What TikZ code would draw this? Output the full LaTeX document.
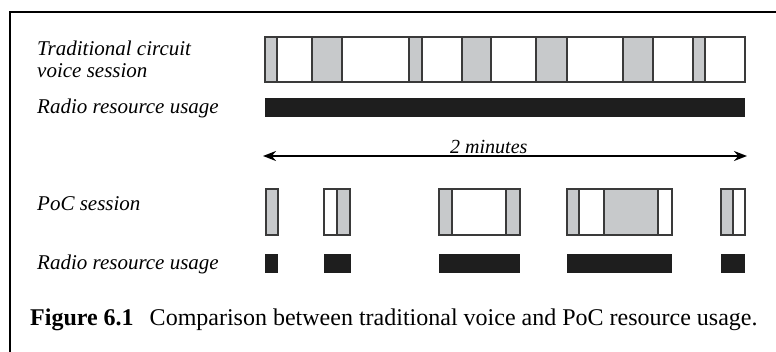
\documentclass[tikz,border=0pt]{standalone}
\usepackage{fontspec}
\setmainfont{Liberation Serif}
\usepackage{xcolor}
\usetikzlibrary{arrows.meta}
\definecolor{trazo}{HTML}{3A3A3A}
\definecolor{habla}{HTML}{C7C9CB}
\definecolor{ocupado}{HTML}{1E1E1E}

\begin{document}
\begin{tikzpicture}[x=1pt,y=-1pt,
    every node/.style={font=\fontsize{21}{22}\selectfont\itshape,align=left,anchor=west,inner sep=0pt},
    session/.style={draw=trazo,line width=1.2pt,fill=white},
    talk/.style={draw=trazo,line width=1.2pt,fill=habla},
    usage/.style={fill=ocupado},
    caption/.style={font=\fontsize{24}{26}\selectfont\upshape,anchor=base west}
  ]
    \useasboundingbox (0,0) rectangle (776,352);
    \draw[line width=2pt] (10,352) -- (10,12) -- (776,12);

    \node (trad) at (37,59) {Traditional circuit\\voice session};
    \node (radioA) at (37,108) {Radio resource usage};
    \node (poc) at (37,204) {PoC session};
    \node (radioB) at (37,264) {Radio resource usage};

    % circuit call: the channel is held the whole time
    \draw[session] (265,37) rectangle (745,82);
    \draw[talk] (265,37) rectangle (277,82);
    \draw[talk] (312,37) rectangle (342,82);
    \draw[talk] (409,37) rectangle (422,82);
    \draw[talk] (462,37) rectangle (491,82);
    \draw[talk] (536,37) rectangle (567,82);
    \draw[talk] (623,37) rectangle (653,82);
    \draw[talk] (693,37) rectangle (705,82);
    \fill[usage] (265,98) rectangle (745,117);

    \coordinate (start) at (263,156);
    \coordinate (stop) at (747,156);
    \draw[{Stealth[length=13pt,width=10pt]}-{Stealth[length=13pt,width=10pt]},line width=2pt] (start) -- (stop);
    \node[anchor=south west,font=\fontsize{20}{22}\selectfont\itshape] (span) at (450,154) {2 minutes};

    % PoC: radio only while someone talks
    \draw[talk] (266,189) rectangle (278,235);
    \draw[session] (324,189) rectangle (350,235);
    \draw[talk] (337,189) rectangle (350,235);
    \draw[session] (439,189) rectangle (520,235);
    \draw[talk] (439,189) rectangle (452,235);
    \draw[talk] (506,189) rectangle (520,235);
    \draw[session] (567,189) rectangle (672,235);
    \draw[talk] (567,189) rectangle (579,235);
    \draw[talk] (604,189) rectangle (658,235);
    \draw[session] (721,189) rectangle (745,235);
    \draw[talk] (721,189) rectangle (733,235);

    \fill[usage] (265,254) rectangle (278,273);
    \fill[usage] (324,254) rectangle (351,273);
    \fill[usage] (439,254) rectangle (520,273);
    \fill[usage] (567,254) rectangle (672,273);
    \fill[usage] (721,254) rectangle (745,273);

    \node[caption] (cap) at (30,326) {\textbf{Figure 6.1}\hspace{16pt}Comparison between traditional voice and PoC resource usage.};
  \end{tikzpicture}
\end{document}
